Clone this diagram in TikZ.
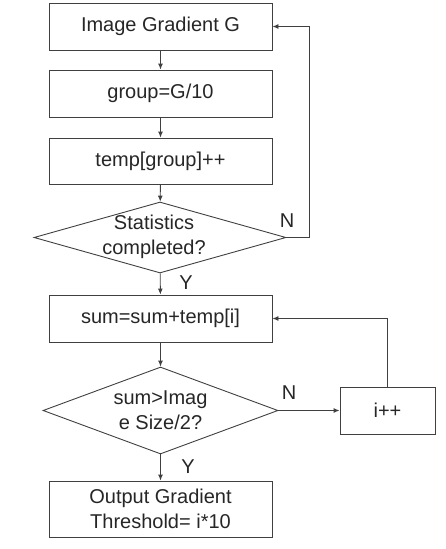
\documentclass[tikz,border=0pt]{standalone}
\usepackage{fontspec}
\setmainfont{Liberation Sans}
\usetikzlibrary{shapes.geometric,arrows.meta}
\begin{document}
\begin{tikzpicture}[x=1pt,y=-1pt,
  line width=0.9pt,
  txt/.style={font=\fontsize{20}{25}\selectfont,text=black!85},
  proc/.style={txt,draw=black!75,line width=0.9pt,minimum width=223pt,inner sep=0pt,align=center},
  dec/.style={diamond,draw=black!75,line width=0.9pt,inner sep=0pt},
  arr/.style={draw=black!75,-{Latex[length=6pt,width=5pt]}},
  lbl/.style={txt,inner sep=0pt}]
\useasboundingbox (0,0) rectangle (446,549);
\node[proc,minimum height=47pt] (b1) at (160.5,26.5) {Image Gradient G};
\node[proc,minimum height=47pt] (b2) at (160.5,93.5) {group=G/10};
\node[proc,minimum height=46pt] (b3) at (160.5,161) {temp[group]++};
\node[dec,minimum width=252pt,minimum height=71pt,shape aspect=3.55] (d1) at (160,237.5) {};
\node[txt,align=center] (t1) at (154,237) {Statistics\\completed?};
\node[proc,minimum height=47pt] (b4) at (160.5,318.5) {sum=sum+temp[i]};
\node[dec,minimum width=235pt,minimum height=87pt,shape aspect=2.7] (d2) at (160.5,410.5) {};
\node[txt,align=center] (t2) at (160.5,410) {sum>Imag\\e Size/2?};
\node[proc,minimum width=95pt,minimum height=47pt] (b6) at (387.5,410.5) {i++};
\node[proc,minimum height=56pt] (b5) at (160.5,509) {Output Gradient\\Threshold= i*10};
\coordinate (c1) at (309,237.5);
\coordinate (c2) at (309,26.5);
\coordinate (c3) at (387.5,318.5);
\draw[arr] (b1) -- (b2);
\draw[arr] (b2) -- (b3);
\draw[arr] (b3) -- (d1);
\draw[arr] (d1) -- (b4);
\draw[arr] (b4) -- (d2);
\draw[arr] (d2) -- (b5);
\draw[arr] (d1.east) -- (c1) -- (c2) -- (b1.east);
\draw[arr] (d2.east) -- (b6.west);
\draw[arr] (b6.north) -- (c3) -- (b4.east);
\node[lbl] (n1) at (287,221) {N};
\node[lbl] (y1) at (186,283) {Y};
\node[lbl] (n2) at (289,393) {N};
\node[lbl] (y2) at (188,467) {Y};
\end{tikzpicture}
\end{document}
